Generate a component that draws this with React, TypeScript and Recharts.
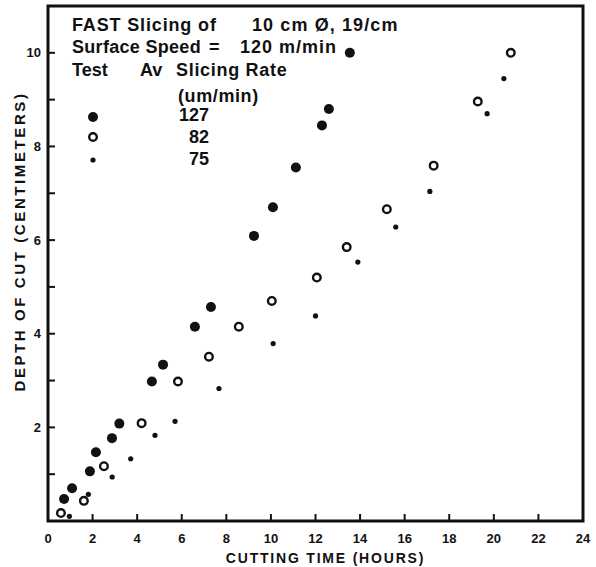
import { ScatterChart, Scatter, XAxis, YAxis, ReferenceArea } from "recharts"

// Test 1: av slicing rate 127 um/min (large filled dots)
const rate127Hours = [0.72, 1.08, 1.88, 2.15, 2.87, 3.2, 4.66, 5.16, 6.59, 7.31, 9.24, 10.09, 11.12, 12.29, 12.6, 13.54]
const rate127Depth = [0.47, 0.7, 1.06, 1.47, 1.77, 2.08, 2.98, 3.34, 4.15, 4.57, 6.09, 6.7, 7.55, 8.45, 8.8, 10.0]

// Test 2: 82 um/min (open circles)
const rate82Hours = [0.58, 1.61, 2.51, 4.2, 5.83, 7.22, 8.56, 10.04, 12.06, 13.4, 15.2, 17.3, 19.28, 20.76]
const rate82Depth = [0.17, 0.43, 1.17, 2.09, 2.98, 3.51, 4.15, 4.7, 5.2, 5.85, 6.66, 7.59, 8.96, 10.0]

// Test 3: 75 um/min (small dots)
const rate75Hours = [0.96, 1.81, 2.88, 3.71, 4.8, 5.7, 7.67, 10.1, 12.0, 13.9, 15.6, 17.13, 19.7, 20.45]
const rate75Depth = [0.1, 0.57, 0.94, 1.33, 1.83, 2.13, 2.83, 3.79, 4.38, 5.53, 6.28, 7.04, 8.7, 9.45]

const xTicks = [0, 2, 4, 6, 8, 10, 12, 14, 16, 18, 20, 22, 24]
const yTicks = [1, 2, 3, 4, 5, 6, 7, 8, 9, 10]
const yLabelled = [2, 4, 6, 8, 10]

const INK = "#111"
const FONT = "'Liberation Sans', Arial, Helvetica, sans-serif"

const toPoints = (xs: number[], ys: number[]) => xs.map((x, i) => ({ x, y: ys[i] }))

const FilledDot = (p: any) => <circle cx={p.cx} cy={p.cy} r={5} fill={INK} />
const RingDot = (p: any) => (
  <circle cx={p.cx} cy={p.cy} r={3.8} fill="#fff" stroke={INK} strokeWidth={2.4} />
)
const SmallDot = (p: any) => <circle cx={p.cx} cy={p.cy} r={2.6} fill={INK} />

function BottomTick({ x, y, payload }: any) {
  const v = payload.value
  return (
    <g>
      {v > 0 && v < 24 && <line x1={x} x2={x} y1={y} y2={y - 7} stroke={INK} strokeWidth={2} />}
      <text x={x} y={y + 22} textAnchor="middle" fontSize={13} fontWeight={700} fontFamily={FONT} fill={INK}>
        {v}
      </text>
    </g>
  )
}

function LeftTick({ x, y, payload }: any) {
  const v = payload.value
  return (
    <g>
      <line x1={x} x2={x + 7} y1={y} y2={y} stroke={INK} strokeWidth={2} />
      {yLabelled.includes(v) && (
        <text x={x - 7} y={y} dy="0.36em" textAnchor="end" fontSize={13} fontWeight={700} fontFamily={FONT} fill={INK}>
          {v}
        </text>
      )}
    </g>
  )
}

function RightTick({ x, y }: any) {
  return <line x1={x} x2={x - 7} y1={y} y2={y} stroke={INK} strokeWidth={2} />
}

const legendText: React.CSSProperties = {
  position: "absolute",
  fontFamily: FONT,
  fontWeight: 700,
  fontSize: 18,
  lineHeight: "18px",
  color: INK,
  whiteSpace: "nowrap",
}

function Marker({ left, top, kind }: { left: number; top: number; kind: string }) {
  return (
    <svg style={{ position: "absolute", left: left - 8, top: top - 8 }} width={16} height={16}>
      {kind === "filled" && <circle cx={8} cy={8} r={5} fill={INK} />}
      {kind === "ring" && <circle cx={8} cy={8} r={3.8} fill="#fff" stroke={INK} strokeWidth={2.4} />}
      {kind === "small" && <circle cx={8} cy={8} r={2.6} fill={INK} />}
    </svg>
  )
}

export default function App() {
  return (
    <div style={{ position: "absolute", left: 0, top: 0, width: 596, height: 567, background: "#fff" }}>
      <ScatterChart width={596} height={567} margin={{ top: 6, right: 13, bottom: 0, left: 0 }}>
        <XAxis
          type="number"
          dataKey="x"
          domain={[0, 24]}
          ticks={xTicks}
          interval={0}
          height={46}
          axisLine={false}
          tickLine={false}
          tickSize={0}
          tickMargin={0}
          tick={BottomTick}
          label={{
            content: ({ viewBox }: any) => (
              <text
                x={viewBox.x + viewBox.width / 2 + 10}
                y={viewBox.y + viewBox.height - 4}
                textAnchor="middle"
                fontSize={14}
                fontWeight={700}
                letterSpacing={1.8}
                fontFamily={FONT}
                fill={INK}
              >
                CUTTING TIME (HOURS)
              </text>
            ),
          }}
        />
        <YAxis
          type="number"
          dataKey="y"
          domain={[0, 11]}
          ticks={yTicks}
          interval={0}
          width={48}
          axisLine={false}
          tickLine={false}
          tickSize={0}
          tickMargin={0}
          tick={LeftTick}
          label={{
            content: ({ viewBox }: any) => {
              const cx = viewBox.x + 19
              const cy = viewBox.y + viewBox.height / 2 - 22
              return (
                <text
                  x={cx}
                  y={cy}
                  transform={`rotate(-90, ${cx}, ${cy})`}
                  textAnchor="middle"
                  dominantBaseline="central"
                  fontSize={15}
                  fontWeight={700}
                  letterSpacing={2.6}
                  fontFamily={FONT}
                  fill={INK}
                >
                  DEPTH OF CUT (CENTIMETERS)
                </text>
              )
            },
          }}
        />
        <YAxis
          yAxisId="right"
          orientation="right"
          type="number"
          domain={[0, 11]}
          ticks={yTicks}
          interval={0}
          width={0}
          axisLine={false}
          tickLine={false}
          tickSize={0}
          tickMargin={0}
          tick={RightTick}
        />
        <ReferenceArea x1={0} x2={24} y1={0} y2={11} fill="none" stroke={INK} strokeWidth={3} />
        <Scatter data={toPoints(rate127Hours, rate127Depth)} shape={FilledDot} isAnimationActive={false} />
        <Scatter data={toPoints(rate82Hours, rate82Depth)} shape={RingDot} isAnimationActive={false} />
        <Scatter data={toPoints(rate75Hours, rate75Depth)} shape={SmallDot} isAnimationActive={false} />
      </ScatterChart>

      <div style={{ ...legendText, left: 72, top: 16, letterSpacing: 0.85 }}>FAST Slicing of</div>
      <div style={{ ...legendText, left: 252, top: 16, letterSpacing: 1.1 }}>10 cm Ø, 19/cm</div>
      <div style={{ ...legendText, left: 72, top: 38, letterSpacing: 0.3 }}>Surface Speed</div>
      <div style={{ ...legendText, left: 209, top: 38 }}>=</div>
      <div style={{ ...legendText, left: 240, top: 38, letterSpacing: 1 }}>120 m/min</div>
      <div style={{ ...legendText, left: 72, top: 61 }}>Test</div>
      <div style={{ ...legendText, left: 140, top: 61 }}>Av</div>
      <div style={{ ...legendText, left: 176, top: 61, letterSpacing: 0.7 }}>Slicing Rate</div>
      <div style={{ ...legendText, left: 178, top: 87, letterSpacing: 0.6 }}>(um/min)</div>
      <div style={{ ...legendText, left: 179, top: 106 }}>127</div>
      <div style={{ ...legendText, left: 189, top: 128 }}>82</div>
      <div style={{ ...legendText, left: 189, top: 150 }}>75</div>
      <Marker left={93} top={117} kind="filled" />
      <Marker left={93} top={137} kind="ring" />
      <Marker left={93} top={160} kind="small" />
    </div>
  )
}
